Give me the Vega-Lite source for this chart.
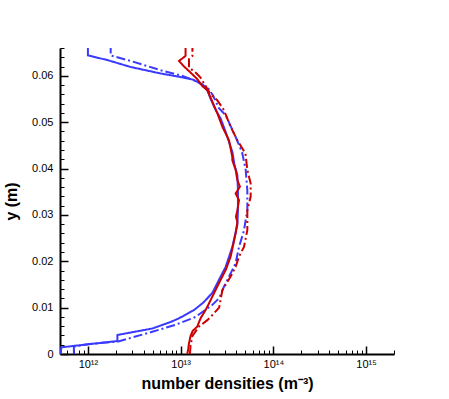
{
  "$schema": "https://vega.github.io/schema/vega-lite/v6.json",
  "width": 334,
  "height": 306,
  "autosize": {"type": "none"},
  "padding": {"left": 60, "top": 48, "right": 55, "bottom": 45},
  "background": "white",
  "config": {"view": {"stroke": null}, "font": "Liberation Sans"},
  "data": {"values": [
    {"s": "bs", "n": 5.1e11, "y": 0},
    {"s": "bs", "n": 5.16e11, "y": 0.00144},
    {"s": "bs", "n": 2.08e12, "y": 0.0028},
    {"s": "bs", "n": 2.08e12, "y": 0.0041},
    {"s": "bs", "n": 4.95e12, "y": 0.0055},
    {"s": "bs", "n": 7.8e12, "y": 0.0069},
    {"s": "bs", "n": 9.6e12, "y": 0.0077},
    {"s": "bs", "n": 1.4e13, "y": 0.0095},
    {"s": "bs", "n": 1.78e13, "y": 0.0112},
    {"s": "bs", "n": 2.2e13, "y": 0.0132},
    {"s": "bs", "n": 2.7e13, "y": 0.0167},
    {"s": "bs", "n": 3.06e13, "y": 0.0188},
    {"s": "bs", "n": 3.61e13, "y": 0.0231},
    {"s": "bs", "n": 3.92e13, "y": 0.0263},
    {"s": "bs", "n": 4.09e13, "y": 0.0278},
    {"s": "bs", "n": 4.15e13, "y": 0.031},
    {"s": "bs", "n": 4.15e13, "y": 0.0353},
    {"s": "bs", "n": 4.09e13, "y": 0.0386},
    {"s": "bs", "n": 3.82e13, "y": 0.0407},
    {"s": "bs", "n": 3.61e13, "y": 0.0436},
    {"s": "bs", "n": 3.06e13, "y": 0.0479},
    {"s": "bs", "n": 2.7e13, "y": 0.0508},
    {"s": "bs", "n": 2.39e13, "y": 0.0526},
    {"s": "bs", "n": 2.11e13, "y": 0.055},
    {"s": "bs", "n": 1.96e13, "y": 0.0567},
    {"s": "bs", "n": 1.73e13, "y": 0.0581},
    {"s": "bs", "n": 1.35e13, "y": 0.0592},
    {"s": "bs", "n": 9.6e12, "y": 0.0598},
    {"s": "bs", "n": 6.1e12, "y": 0.0605},
    {"s": "bs", "n": 2.89e12, "y": 0.0619},
    {"s": "bs", "n": 1.62e12, "y": 0.0634},
    {"s": "bs", "n": 1.0e12, "y": 0.0644},
    {"s": "bs", "n": 1.0e12, "y": 0.0662},

    {"s": "bd", "n": 7.06e11, "y": 0},
    {"s": "bd", "n": 7.06e11, "y": 0.00157},
    {"s": "bd", "n": 1.03e12, "y": 0.00216},
    {"s": "bd", "n": 2.08e12, "y": 0.00265},
    {"s": "bd", "n": 4.95e12, "y": 0.0048},
    {"s": "bd", "n": 8.8e12, "y": 0.0063},
    {"s": "bd", "n": 1.45e13, "y": 0.008},
    {"s": "bd", "n": 2.2e13, "y": 0.0106},
    {"s": "bd", "n": 2.59e13, "y": 0.012},
    {"s": "bd", "n": 2.93e13, "y": 0.0145},
    {"s": "bd", "n": 3.46e13, "y": 0.0174},
    {"s": "bd", "n": 3.92e13, "y": 0.0196},
    {"s": "bd", "n": 4.26e13, "y": 0.0231},
    {"s": "bd", "n": 4.8e13, "y": 0.0265},
    {"s": "bd", "n": 5.24e13, "y": 0.031},
    {"s": "bd", "n": 5.24e13, "y": 0.0353},
    {"s": "bd", "n": 5.03e13, "y": 0.0397},
    {"s": "bd", "n": 4.6e13, "y": 0.0435},
    {"s": "bd", "n": 3.92e13, "y": 0.0468},
    {"s": "bd", "n": 3.06e13, "y": 0.0515},
    {"s": "bd", "n": 2.59e13, "y": 0.053},
    {"s": "bd", "n": 2.23e13, "y": 0.0558},
    {"s": "bd", "n": 2.0e13, "y": 0.0572},
    {"s": "bd", "n": 1.5e13, "y": 0.0588},
    {"s": "bd", "n": 1.0e13, "y": 0.0601},
    {"s": "bd", "n": 6.1e12, "y": 0.0612},
    {"s": "bd", "n": 2.89e12, "y": 0.0632},
    {"s": "bd", "n": 1.76e12, "y": 0.0644},
    {"s": "bd", "n": 1.76e12, "y": 0.0662},

    {"s": "rs", "n": 1.18e13, "y": 0},
    {"s": "rs", "n": 1.21e13, "y": 0.0012},
    {"s": "rs", "n": 1.23e13, "y": 0.0023},
    {"s": "rs", "n": 1.28e13, "y": 0.0039},
    {"s": "rs", "n": 1.35e13, "y": 0.005},
    {"s": "rs", "n": 1.51e13, "y": 0.0059},
    {"s": "rs", "n": 1.64e13, "y": 0.0077},
    {"s": "rs", "n": 1.86e13, "y": 0.0095},
    {"s": "rs", "n": 2.02e13, "y": 0.0109},
    {"s": "rs", "n": 2.2e13, "y": 0.0124},
    {"s": "rs", "n": 2.7e13, "y": 0.016},
    {"s": "rs", "n": 3.06e13, "y": 0.0181},
    {"s": "rs", "n": 3.46e13, "y": 0.021},
    {"s": "rs", "n": 3.92e13, "y": 0.026},
    {"s": "rs", "n": 4.09e13, "y": 0.0285},
    {"s": "rs", "n": 3.95e13, "y": 0.0296},
    {"s": "rs", "n": 4.09e13, "y": 0.031},
    {"s": "rs", "n": 4.26e13, "y": 0.0332},
    {"s": "rs", "n": 3.92e13, "y": 0.0346},
    {"s": "rs", "n": 4.36e13, "y": 0.0361},
    {"s": "rs", "n": 4.09e13, "y": 0.0375},
    {"s": "rs", "n": 3.92e13, "y": 0.0397},
    {"s": "rs", "n": 3.61e13, "y": 0.0418},
    {"s": "rs", "n": 3.61e13, "y": 0.0425},
    {"s": "rs", "n": 3.32e13, "y": 0.0461},
    {"s": "rs", "n": 2.82e13, "y": 0.049},
    {"s": "rs", "n": 2.49e13, "y": 0.0519},
    {"s": "rs", "n": 2.2e13, "y": 0.0544},
    {"s": "rs", "n": 1.94e13, "y": 0.0569},
    {"s": "rs", "n": 1.71e13, "y": 0.0578},
    {"s": "rs", "n": 1.51e13, "y": 0.0593},
    {"s": "rs", "n": 1.28e13, "y": 0.0607},
    {"s": "rs", "n": 1.09e13, "y": 0.062},
    {"s": "rs", "n": 9.6e12, "y": 0.0632},
    {"s": "rs", "n": 1.13e13, "y": 0.0643},
    {"s": "rs", "n": 1.13e13, "y": 0.0662},

    {"s": "rd", "n": 1.26e13, "y": 0},
    {"s": "rd", "n": 1.28e13, "y": 0.0019},
    {"s": "rd", "n": 1.34e13, "y": 0.0039},
    {"s": "rd", "n": 1.57e13, "y": 0.0059},
    {"s": "rd", "n": 1.94e13, "y": 0.0073},
    {"s": "rd", "n": 2.2e13, "y": 0.0084},
    {"s": "rd", "n": 2.6e13, "y": 0.01},
    {"s": "rd", "n": 2.82e13, "y": 0.0138},
    {"s": "rd", "n": 3.46e13, "y": 0.0167},
    {"s": "rd", "n": 3.92e13, "y": 0.0188},
    {"s": "rd", "n": 4.26e13, "y": 0.021},
    {"s": "rd", "n": 4.82e13, "y": 0.0231},
    {"s": "rd", "n": 5.24e13, "y": 0.0267},
    {"s": "rd", "n": 5.24e13, "y": 0.031},
    {"s": "rd", "n": 5.69e13, "y": 0.0339},
    {"s": "rd", "n": 5.69e13, "y": 0.0368},
    {"s": "rd", "n": 5.24e13, "y": 0.0397},
    {"s": "rd", "n": 5.0e13, "y": 0.0432},
    {"s": "rd", "n": 4.09e13, "y": 0.0461},
    {"s": "rd", "n": 3.46e13, "y": 0.049},
    {"s": "rd", "n": 2.93e13, "y": 0.0526},
    {"s": "rd", "n": 2.49e13, "y": 0.0547},
    {"s": "rd", "n": 2.1e13, "y": 0.056},
    {"s": "rd", "n": 1.86e13, "y": 0.0578},
    {"s": "rd", "n": 1.64e13, "y": 0.0596},
    {"s": "rd", "n": 1.45e13, "y": 0.0607},
    {"s": "rd", "n": 1.23e13, "y": 0.0618},
    {"s": "rd", "n": 1.23e13, "y": 0.0636},
    {"s": "rd", "n": 1.34e13, "y": 0.0643},
    {"s": "rd", "n": 1.34e13, "y": 0.0662}
  ]},
  "resolve": {"axis": {"x": "independent", "y": "independent"}},
  "layer": [
    {
      "mark": {"type": "line", "strokeWidth": 2, "clip": true},
      "encoding": {
        "x": {"field": "n", "type": "quantitative",
          "scale": {"type": "log", "domain": [5e11, 2e15], "nice": false},
          "axis": {"orient": "bottom", "values": [1e12, 1e13, 1e14, 1e15],
            "labelExpr": "'10' + (datum.value < 5e12 ? '¹²' : datum.value < 5e13 ? '¹³' : datum.value < 5e14 ? '¹⁴' : '¹⁵')",
            "grid": false, "tickSize": -8, "tickWidth": 1.5, "tickColor": "black",
            "domainColor": "black", "domainWidth": 2, "labelFontSize": 11, "labelColor": "black",
            "labelFont": "Liberation Sans", "labelPadding": 12, "labelFlush": false,
            "title": "number densities (m⁻³)", "titleFont": "Liberation Sans", "titleFontSize": 16,
            "titleFontWeight": "bold", "titleColor": "black", "titlePadding": 6}},
        "y": {"field": "y", "type": "quantitative",
          "scale": {"domain": [0, 0.066], "nice": false, "zero": false},
          "axis": {"orient": "left", "values": [0, 0.01, 0.02, 0.03, 0.04, 0.05, 0.06],
            "labelExpr": "datum.value == 0 ? '0' : format(datum.value, '.2f')",
            "grid": false, "tickSize": -8, "tickWidth": 1.5, "tickColor": "black",
            "domainColor": "black", "domainWidth": 2, "labelFontSize": 11, "labelColor": "black",
            "labelFont": "Liberation Sans", "labelPadding": 15, "labelFlush": false,
            "title": "y (m)", "titleFont": "Liberation Sans", "titleFontSize": 16,
            "titleFontWeight": "bold", "titleColor": "black", "titlePadding": 12}},
        "color": {"field": "s", "type": "nominal", "legend": null,
          "scale": {"domain": ["bs", "bd", "rs", "rd"], "range": ["#3a3aff", "#3a3aff", "#cc0000", "#cc0000"]}},
        "strokeDash": {"field": "s", "type": "nominal", "legend": null,
          "scale": {"domain": ["bs", "bd", "rs", "rd"], "range": [[1, 0], [9, 3, 2, 3], [1, 0], [9, 3, 2, 3]]}},
        "order": {"field": "y", "type": "quantitative"}
      }
    },
    {
      "mark": {"type": "line", "opacity": 0},
      "encoding": {
        "x": {"field": "n", "type": "quantitative",
          "axis": {"orient": "bottom", "values": [6e11, 7e11, 8e11, 9e11, 2e12, 3e12, 4e12, 5e12, 6e12, 7e12, 8e12, 9e12, 2e13, 3e13, 4e13, 5e13, 6e13, 7e13, 8e13, 9e13, 2e14, 3e14, 4e14, 5e14, 6e14, 7e14, 8e14, 9e14, 2e15],
            "labels": false, "domain": false, "grid": false, "title": null,
            "tickSize": -4, "tickWidth": 1, "tickColor": "black"}},
        "y": {"field": "y", "type": "quantitative",
          "axis": {"orient": "left", "values": [0.002, 0.004, 0.006, 0.008, 0.012, 0.014, 0.016, 0.018, 0.022, 0.024, 0.026, 0.028, 0.032, 0.034, 0.036, 0.038, 0.042, 0.044, 0.046, 0.048, 0.052, 0.054, 0.056, 0.058, 0.062, 0.064, 0.066],
            "labels": false, "domain": false, "grid": false, "title": null,
            "tickSize": -4, "tickWidth": 1, "tickColor": "black"}},
        "detail": {"field": "s", "type": "nominal"},
        "order": {"field": "y", "type": "quantitative"}
      }
    }
  ]
}
